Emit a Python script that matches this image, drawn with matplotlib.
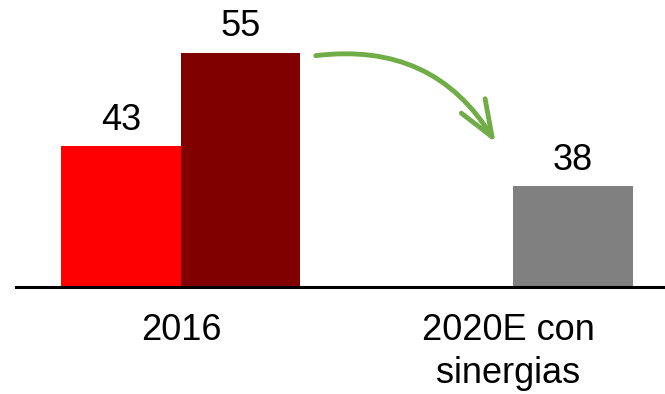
import matplotlib.pyplot as plt
from matplotlib.patches import FancyArrowPatch

plt.rcParams['font.family'] = ['Liberation Sans', 'DejaVu Sans']

# data
labels = ["43", "55", "38"]
heights = [43, 71.4, 30.8]     # drawn bar heights (not to scale with labels)
colors = ["#FF0000", "#800000", "#808080"]
bar_x = [-0.5, 0.5, 3.28]
cat_pos = [0, 2.74]
cat_labels = ["2016", "2020E con\nsinergias"]

fig = plt.figure(figsize=(6.65, 3.94), dpi=100)
ax = fig.add_axes([16 / 665, 107 / 394, 649 / 665, 287 / 394])

bars = ax.bar(bar_x, heights, width=1.0, color=colors, zorder=2)
for b, t in zip(bars, labels):
    ax.annotate(t, (b.get_x() + b.get_width() / 2, b.get_height()),
                xytext=(0, 6), textcoords="offset points",
                ha="center", va="bottom", fontsize=26)

ax.set_xlim(-1.38, 4.05)
ax.set_ylim(0, 87.5)
ax.set_xticks(cat_pos)
ax.set_xticklabels(cat_labels, fontsize=26, linespacing=1.3)
ax.tick_params(axis="x", length=0, pad=19)
ax.set_yticks([])
for s in ["top", "right", "left"]:
    ax.spines[s].set_visible(False)
ax.spines["bottom"].set_linewidth(2.2)
ax.spines["bottom"].set_zorder(3)

# green curved arrow (figure pixels)
arrow = FancyArrowPatch((313, 394 - 56), (497, 394 - 145),
                        transform=None, connectionstyle="arc3,rad=-0.33",
                        arrowstyle="->,head_length=26,head_width=10",
                        color="#70AD47", linewidth=3.5, mutation_scale=1,
                        capstyle="round", joinstyle="round")
fig.patches.append(arrow)

fig.savefig("out.png", dpi=100)
